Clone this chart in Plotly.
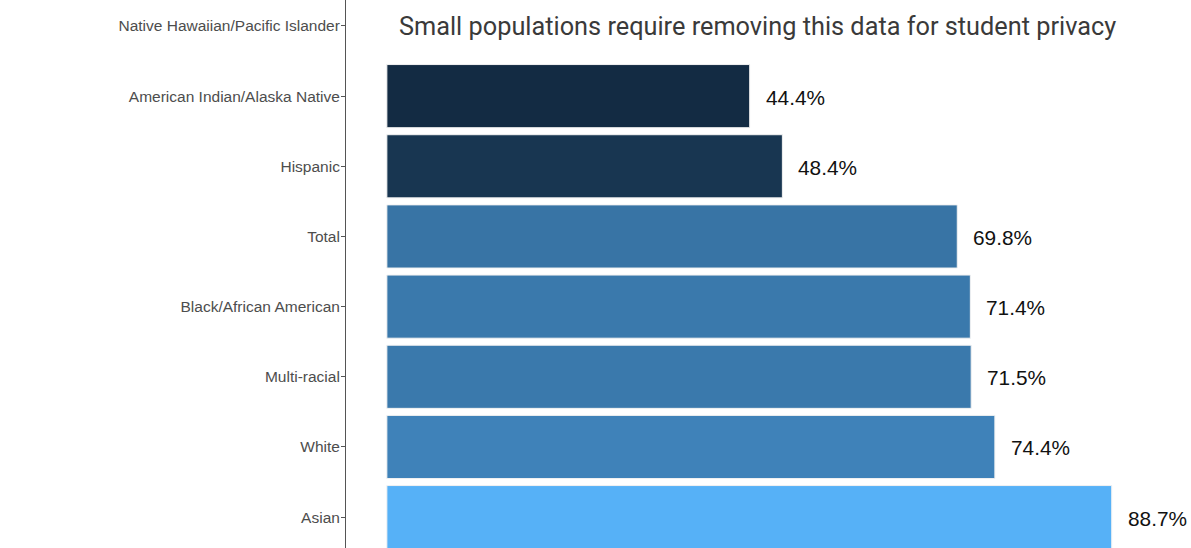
import plotly.graph_objects as go

categories = ["Asian", "White", "Multi-racial", "Black/African American", "Total",
              "Hispanic", "American Indian/Alaska Native", "Native Hawaiian/Pacific Islander"]
values = [88.7, 74.4, 71.5, 71.4, 69.8, 48.4, 44.4, None]
value_labels = ["88.7%", "74.4%", "71.5%", "71.4%", "69.8%", "48.4%", "44.4%", None]
note_text = "Small populations require removing this data for student privacy"
note_category = "Native Hawaiian/Pacific Islander"
note_x = 45.4

LOW, HIGH = "#132B43", "#56B1F7"


def _hex_to_rgb(h):
    h = h.lstrip("#")
    return [int(h[i:i + 2], 16) / 255 for i in (0, 2, 4)]


def _to_lin(c):
    return c / 12.92 if c <= 0.04045 else ((c + 0.055) / 1.055) ** 2.4


def _from_lin(c):
    return 12.92 * c if c <= 0.0031308 else 1.055 * c ** (1 / 2.4) - 0.055


def _rgb_to_lab(rgb):
    r, g, b = [_to_lin(c) for c in rgb]
    x = (0.4124 * r + 0.3576 * g + 0.1805 * b) / 0.95047
    y = (0.2126 * r + 0.7152 * g + 0.0722 * b)
    z = (0.0193 * r + 0.1192 * g + 0.9505 * b) / 1.08883
    f = lambda t: t ** (1 / 3) if t > 0.008856 else 7.787 * t + 16 / 116
    fx, fy, fz = f(x), f(y), f(z)
    return [116 * fy - 16, 500 * (fx - fy), 200 * (fy - fz)]


def _lab_to_hex(lab):
    L, a, b = lab
    fy = (L + 16) / 116
    fx = fy + a / 500
    fz = fy - b / 200
    inv = lambda t: t ** 3 if t ** 3 > 0.008856 else (t - 16 / 116) / 7.787
    x, y, z = inv(fx) * 0.95047, inv(fy), inv(fz) * 1.08883
    r = 3.2406 * x - 1.5372 * y - 0.4986 * z
    g = -0.9689 * x + 1.8758 * y + 0.0415 * z
    bb = 0.0557 * x - 0.2040 * y + 1.0570 * z
    out = [max(0, min(1, _from_lin(max(0, c)))) for c in (r, g, bb)]
    return "#" + "".join(f"{round(c * 255):02X}" for c in out)


lo_lab, hi_lab = _rgb_to_lab(_hex_to_rgb(LOW)), _rgb_to_lab(_hex_to_rgb(HIGH))
valid = [v for v in values if v is not None]
vmin, vmax = min(valid), max(valid)
colors = []
for v in values:
    if v is None:
        colors.append("rgba(0,0,0,0)")
    else:
        t = (v - vmin) / (vmax - vmin)
        colors.append(_lab_to_hex([lo_lab[i] + t * (hi_lab[i] - lo_lab[i]) for i in range(3)]))

fig = go.Figure()
fig.add_trace(go.Bar(
    y=categories, x=values, orientation="h",
    marker=dict(color=colors, line=dict(color="#F2F2F2", width=1)),
    width=0.9, hoverinfo="skip",
))

for c, v, lab in zip(categories, values, value_labels):
    if v is None:
        continue
    fig.add_annotation(x=v, y=c, text=lab, showarrow=False, xanchor="left",
                       xshift=14, yshift=-1,
                       font=dict(family="Liberation Sans, Arial", size=20.8, color="#111111"))

fig.add_annotation(x=note_x, y=note_category, text=note_text, showarrow=False,
                   xanchor="center", yshift=-1,
                   font=dict(family="Roboto", size=25.3, color="#3A3A3A"))

fig.update_layout(
    width=1191, height=548,
    margin=dict(l=346, r=0, t=0, b=0),
    plot_bgcolor="white", paper_bgcolor="white",
    showlegend=False,
    xaxis=dict(range=[-5.0, 98.4], showgrid=False, zeroline=False, showticklabels=False,
               ticks="", showline=False, fixedrange=True),
    yaxis=dict(type="category", categoryorder="array", categoryarray=categories,
               range=[-0.44, 7.37], showgrid=False, zeroline=False,
               showline=True, linecolor="#555555", linewidth=1,
               ticks="outside", ticklen=4, tickcolor="#555555", tickwidth=1,
               ticklabelstandoff=-2,
               tickfont=dict(family="Liberation Sans, Arial", size=15.5, color="#4D4D4D")),
)

fig.write_html("out.html")
